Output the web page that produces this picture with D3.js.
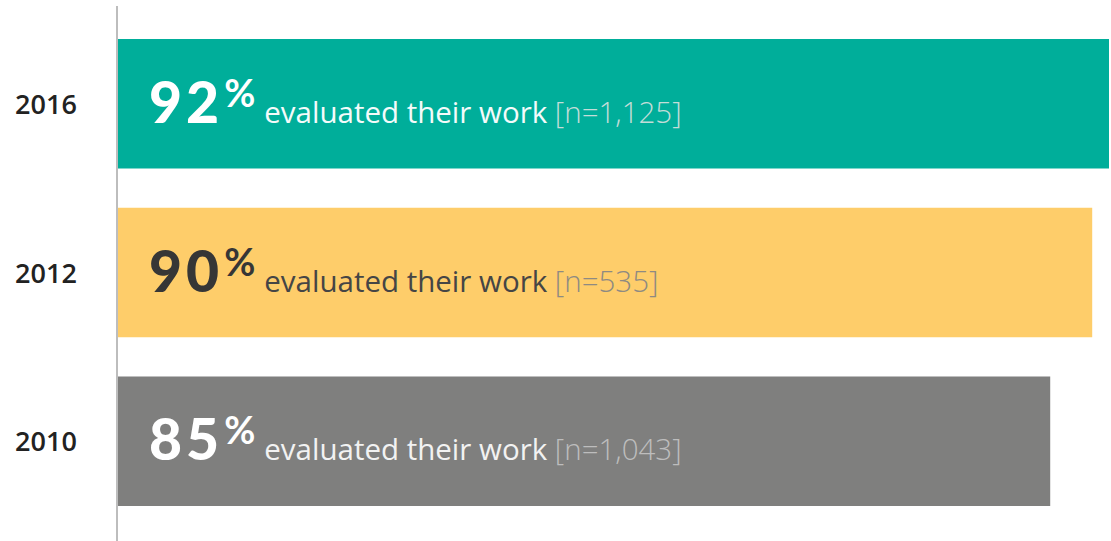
<!DOCTYPE html>
<meta charset="utf-8">
<html>
<head>
  <title>Evaluated their work</title>
  <script src="https://d3js.org/d3.v7.min.js"></script>
</head>
<style>
  body { margin: 0; background: #fff; }
  svg { display: block; }
</style>
<body>
<script>

  // data
  var years = ["2016", "2012", "2010"];
  var values = [92, 90, 85];
  var samples = ["1,125", "535", "1,043"];
  var caption = "evaluated their work";

  var barColors = ["#00AE9A", "#FECD6A", "#7F7F7E"];
  var numColors = ["#ffffff", "#363636", "#ffffff"];
  var textColors = ["#f4fbfa", "#454545", "#f2f2f2"];
  var nColors = ["#c3ddd8", "#8e8a82", "#bdbdbd"];

  var W = 1111, H = 541;

  var svg = d3.select("body").append("svg")
      .attr("width", W)
      .attr("height", H);

  // bars start at the axis; the scale floor sits below zero as in the original
  var x = d3.scaleLinear().domain([-26, 92]).range([118, 1109]);
  var y = d3.scaleBand().domain(years).range([39, 506]).paddingInner(0.2326);

  var rows = years.map(function (yr, i) {
    return { year: yr, v: values[i], n: samples[i], i: i };
  });

  svg.selectAll("rect.bar")
    .data(rows)
    .enter().append("rect")
      .attr("class", "bar")
      .attr("x", x(-26))
      .attr("y", function (d) { return y(d.year); })
      .attr("width", function (d) { return x(d.v) - x(-26); })
      .attr("height", y.bandwidth())
      .attr("fill", function (d) { return barColors[d.i]; });

  // vertical axis line
  svg.append("line")
    .attr("x1", 117).attr("x2", 117)
    .attr("y1", 6).attr("y2", H)
    .attr("stroke", "#bdbdbd")
    .attr("stroke-width", 2);

  // year labels
  svg.selectAll("text.year")
    .data(rows)
    .enter().append("text")
      .attr("class", "year")
      .attr("x", 46)
      .attr("y", function (d) { return y(d.year) + y.bandwidth() / 2 + 10; })
      .attr("text-anchor", "middle")
      .attr("font-family", "'Open Sans', sans-serif")
      .attr("font-weight", 600)
      .attr("font-size", 27)
      .attr("fill", "#222")
      .text(function (d) { return d.year; });

  // labels inside bars
  var lab = svg.selectAll("text.lab")
    .data(rows)
    .enter().append("text")
      .attr("class", "lab")
      .attr("x", 149)
      .attr("y", function (d) { return y(d.year) + y.bandwidth() / 2 + 19; })
      .attr("font-family", "Lato, sans-serif");

  lab.append("tspan")
    .attr("font-size", 57)
    .attr("font-weight", 900)
    .attr("letter-spacing", 4)
    .attr("fill", function (d) { return numColors[d.i]; })
    .text(function (d) { return d.v; });

  lab.append("tspan")
    .attr("font-size", 38)
    .attr("font-weight", 700)
    .attr("dy", -16)
    .attr("dx", 1)
    .attr("fill", function (d) { return numColors[d.i]; })
    .text("%");

  lab.append("tspan")
    .attr("font-family", "'Open Sans', sans-serif")
    .attr("font-size", 29.5)
    .attr("font-weight", 400)
    .attr("dy", 16)
    .attr("dx", 9)
    .attr("fill", function (d) { return textColors[d.i]; })
    .text(caption + " ");

  lab.append("tspan")
    .attr("font-family", "'Open Sans', sans-serif")
    .attr("font-size", 29.5)
    .attr("font-weight", 300)
    .attr("fill", function (d) { return nColors[d.i]; })
    .text(function (d) { return "[n=" + d.n + "]"; });

</script>
</body>
</html>
